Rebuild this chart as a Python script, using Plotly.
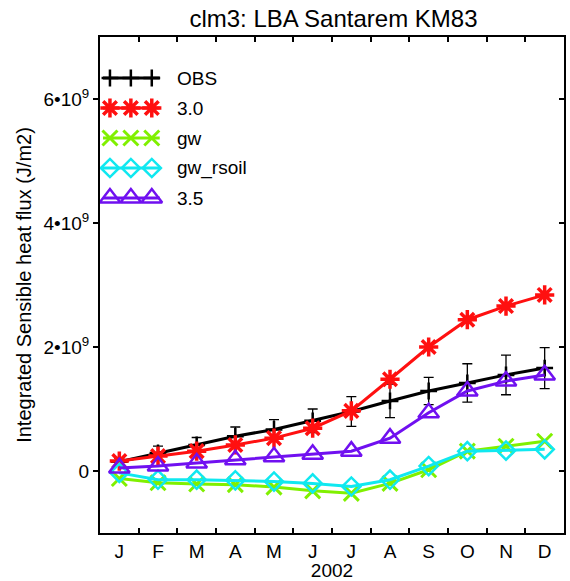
import plotly.graph_objects as go

months = ["J", "F", "M", "A", "M", "J", "J", "A", "S", "O", "N", "D"]
obs = [0.15, 0.29, 0.42, 0.56, 0.67, 0.81, 0.96, 1.13, 1.29, 1.42, 1.55, 1.66]
obs_err = [0.05, 0.11, 0.12, 0.15, 0.16, 0.19, 0.24, 0.27, 0.22, 0.31, 0.32, 0.33]
v30 = [0.16, 0.24, 0.32, 0.42, 0.53, 0.69, 0.97, 1.48, 2.00, 2.44, 2.66, 2.84]
gw = [-0.12, -0.19, -0.21, -0.22, -0.26, -0.32, -0.36, -0.20, 0.02, 0.32, 0.40, 0.48]
gw_rsoil = [-0.03, -0.14, -0.14, -0.15, -0.17, -0.20, -0.25, -0.14, 0.08, 0.32, 0.33, 0.35]
v35 = [0.05, 0.08, 0.13, 0.18, 0.23, 0.27, 0.32, 0.53, 0.94, 1.29, 1.45, 1.55]
names = ["OBS", "3.0", "gw", "gw_rsoil", "3.5"]
scale = 1e9
ytick_vals = [0, 2, 4, 6]
ytick_text = ["0", "2•10<sup>9</sup>", "4•10<sup>9</sup>", "6•10<sup>9</sup>"]
y_range = [-1, 7]

styles = [
    dict(color="black", symbol="cross-thin-open", size=12, mlw=2.5),
    dict(color="#ff1010", symbol="asterisk-open", size=16, mlw=3.5),
    dict(color="#80f000", symbol="x-thin-open", size=15, mlw=3),
    dict(color="#10e8f0", symbol="diamond-open", size=14, mlw=2.5),
    dict(color="#7010f0", symbol="triangle-up-open", size=18, mlw=2.5),
]
series = [obs, v30, gw, gw_rsoil, v35]

# layout (pixels)
W, H = 570, 581
ML, MR, MT, MB = 100, 4, 37, 48
PW, PH = W - ML - MR, H - MT - MB
fx = lambda px: (px - ML) / PW
fy = lambda py: (H - MB - py) / PH

nm_ = len(months)
x = [i + 0.5 for i in range(nm_)]
sc = lambda a: [v * scale for v in a]

fig = go.Figure()
for i, (nm, data, st) in enumerate(zip(names, series, styles)):
    kw = {}
    if nm == "OBS":
        kw["error_y"] = dict(type="data", array=sc(obs_err), visible=True, color="black", thickness=1.3, width=5)
    fig.add_trace(go.Scatter(
        x=x, y=sc(data), name=nm, mode="lines+markers", showlegend=False,
        line=dict(color=st["color"], width=3),
        marker=dict(symbol=st["symbol"], size=st["size"], color=st["color"],
                    line=dict(width=st["mlw"], color=st["color"])),
        **kw,
    ))

# custom MATLAB-style legend (line with three markers)
leg_row0, leg_step = 78, 30
line_x0, line_x1 = 103, 160
mark_xs = [110, 131, 152]
text_x = 175
for i, (nm, st) in enumerate(zip(names, styles)):
    py = leg_row0 + i * leg_step
    fig.add_trace(go.Scatter(
        x=[fx(line_x0), fx(line_x1)], y=[fy(py), fy(py)], xaxis="x2", yaxis="y2",
        mode="lines", line=dict(color=st["color"], width=3), showlegend=False, hoverinfo="skip",
    ))
    fig.add_trace(go.Scatter(
        x=[fx(m) for m in mark_xs], y=[fy(py)] * 3, xaxis="x2", yaxis="y2",
        mode="markers", showlegend=False, hoverinfo="skip",
        marker=dict(symbol=st["symbol"], size=st["size"], color=st["color"],
                    line=dict(width=st["mlw"], color=st["color"])),
    ))
    fig.add_annotation(x=fx(text_x), y=fy(py), xref="paper", yref="paper", text=nm,
                       showarrow=False, xanchor="left", yanchor="middle", font=dict(size=19))

font = "Liberation Sans, Arial, sans-serif"
fig.update_layout(
    width=W, height=H,
    margin=dict(l=ML, r=MR, t=MT, b=MB),
    paper_bgcolor="white", plot_bgcolor="white",
    font=dict(family=font, size=19, color="black"),
    title=dict(text="clm3: LBA Santarem KM83", x=0.585, xanchor="center", y=0.968, yanchor="middle",
               font=dict(size=24, family=font)),
    showlegend=False,
    xaxis=dict(
        range=[0, nm_], tickvals=x, ticktext=months, ticks="", showgrid=False, zeroline=False,
        showline=True, linecolor="black", linewidth=2, mirror=True,
        minor=dict(tickvals=list(range(1, nm_)), ticks="inside", ticklen=5, tickcolor="black", tickwidth=1.5),
        title=dict(text="2002", standoff=0, font=dict(size=19)),
        tickfont=dict(size=19),
    ),
    yaxis=dict(
        range=[v * scale for v in y_range], tickvals=[v * scale for v in ytick_vals], ticktext=ytick_text,
        ticks="outside", ticklen=5, tickwidth=1.5, tickcolor="black", showgrid=False, zeroline=False,
        showline=True, linecolor="black", linewidth=2, mirror=True,
        title=dict(text="Integrated Sensible heat flux (J/m2)", standoff=6, font=dict(size=20)),
        tickfont=dict(size=19),
    ),
    # overlay axes: used for the legend samples and for the top / right tick marks of the box
    xaxis2=dict(overlaying="x", anchor="y2", side="top", range=[0, 1], fixedrange=True,
                tickvals=[k / nm_ for k in range(1, nm_)], ticks="inside", ticklen=5,
                tickcolor="black", tickwidth=1.5, showticklabels=False,
                showline=False, showgrid=False, zeroline=False),
    yaxis2=dict(overlaying="y", anchor="x2", side="right", range=[0, 1], fixedrange=True,
                tickvals=[(v - y_range[0]) / (y_range[1] - y_range[0]) for v in ytick_vals],
                ticks="inside", ticklen=5, tickcolor="black", tickwidth=1.5, showticklabels=False,
                showline=False, showgrid=False, zeroline=False),
)
fig.write_html("out.html")
